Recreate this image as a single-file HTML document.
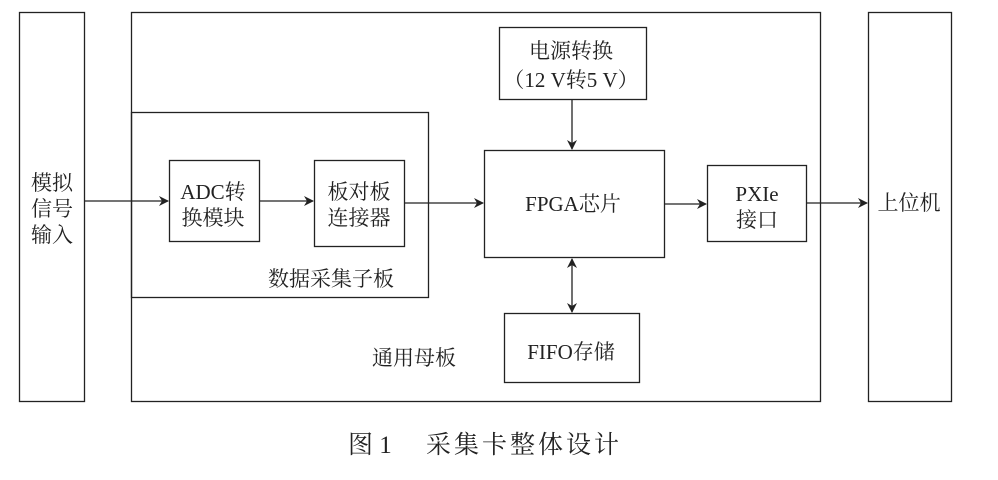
<!DOCTYPE html>
<html><head><meta charset="utf-8"><style>
body{margin:0;background:#fff}
svg text{font-family:"Liberation Serif","Noto Serif CJK SC",serif;fill:#222}
</style></head><body>
<svg width="998" height="475" viewBox="0 0 998 475" xmlns="http://www.w3.org/2000/svg">
<defs><marker id="a" markerWidth="10" markerHeight="10" refX="9" refY="5" orient="auto-start-reverse" markerUnits="userSpaceOnUse"><path d="M0,0 L10,5 L0,10 L3,5 Z" fill="#222"/></marker></defs>
<g fill="none" stroke="#222" stroke-width="1.3">
<rect x="19.5" y="12.5" width="65" height="389"/>
<rect x="131.5" y="12.5" width="689" height="389"/>
<rect x="868.5" y="12.5" width="83" height="389"/>
<rect x="131.5" y="112.5" width="297" height="185"/>
<rect x="169.5" y="160.5" width="90" height="81"/>
<rect x="314.5" y="160.5" width="90" height="86"/>
<rect x="499.5" y="27.5" width="147" height="72"/>
<rect x="484.5" y="150.5" width="180" height="107"/>
<rect x="707.5" y="165.5" width="99" height="76"/>
<rect x="504.5" y="313.5" width="135" height="69"/>
<line x1="84" y1="201" x2="168" y2="201" marker-end="url(#a)"/>
<line x1="259" y1="201" x2="313" y2="201" marker-end="url(#a)"/>
<line x1="404" y1="203" x2="483" y2="203" marker-end="url(#a)"/>
<line x1="665" y1="204" x2="706" y2="204" marker-end="url(#a)"/>
<line x1="806" y1="203" x2="867" y2="203" marker-end="url(#a)"/>
<line x1="572" y1="100" x2="572" y2="149" marker-end="url(#a)"/>
<line x1="572" y1="259" x2="572" y2="312" marker-start="url(#a)" marker-end="url(#a)"/>
</g>
<g font-size="21">
<text x="52" y="190" text-anchor="middle">模拟</text>
<text x="52" y="216" text-anchor="middle">信号</text>
<text x="52" y="242" text-anchor="middle">输入</text>
<text x="213" y="199" text-anchor="middle">ADC转</text>
<text x="213" y="225" text-anchor="middle">换模块</text>
<text x="359" y="199" text-anchor="middle">板对板</text>
<text x="359" y="225" text-anchor="middle">连接器</text>
<text x="331" y="286" text-anchor="middle">数据采集子板</text>
<text x="414" y="365" text-anchor="middle">通用母板</text>
<text x="571" y="58" text-anchor="middle">电源转换</text>
<text x="571" y="87" text-anchor="middle">（12 V转5 V）</text>
<text x="573" y="211" text-anchor="middle">FPGA芯片</text>
<text x="757" y="201" text-anchor="middle">PXIe</text>
<text x="757" y="227" text-anchor="middle">接口</text>
<text x="571" y="359" text-anchor="middle">FIFO存储</text>
<text x="909" y="210" text-anchor="middle">上位机</text>
</g>
<text x="348" y="453" font-size="25">图 1</text>
<text x="426" y="453" font-size="25" letter-spacing="3">采集卡整体设计</text>
</svg>
</body></html>
